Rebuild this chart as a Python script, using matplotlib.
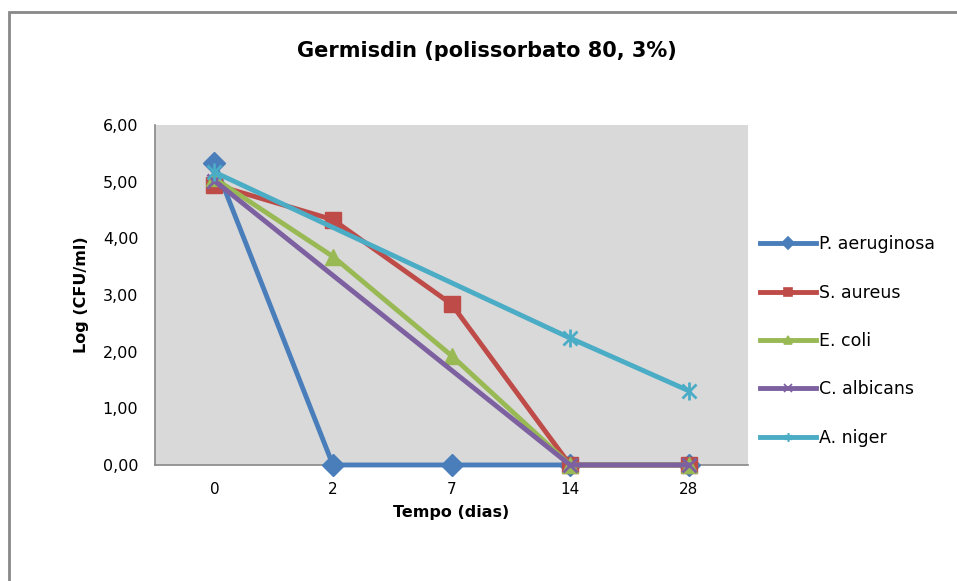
import numpy as np
import matplotlib.pyplot as plt
from matplotlib.lines import Line2D
from matplotlib.patches import Rectangle

# Dados
dias = ['0', '2', '7', '14', '28']
p_aeruginosa = [5.33, 0.0, 0.0, 0.0, 0.0]
s_aureus = [4.95, 4.33, 2.84, 0.0, 0.0]
e_coli = [5.06, 3.68, 1.93, 0.0, 0.0]
c_albicans = [5.02, np.nan, np.nan, 0.0, 0.0]
a_niger = [5.17, np.nan, np.nan, 2.24, 1.31]

series = [
    ('P. aeruginosa', p_aeruginosa, '#4a7ebb', 'D', 11),
    ('S. aureus', s_aureus, '#be4b48', 's', 12),
    ('E. coli', e_coli, '#98b954', '^', 12),
    ('C. albicans', c_albicans, '#7d60a0', 'x', 10),
    ('A. niger', a_niger, '#4bacc6', '*', 12),
]

plt.rcParams['font.family'] = 'DejaVu Sans'

fig = plt.figure(figsize=(9.57, 5.81), dpi=100)
ax = fig.add_axes([0.162, 0.1997, 0.6196, 0.585])
ax.set_facecolor('#d9d9d9')

x = np.arange(len(dias))
for nome, vals, cor, mk, ms in series:
    v = np.array(vals, dtype=float)
    ok = ~np.isnan(v)
    if mk == '*':
        # asterisco estilo Excel
        ax.plot(x[ok], v[ok], color=cor, lw=3.5, zorder=3, clip_on=False)
        ax.plot(x[ok], v[ok], ls='none', marker='x', ms=10, mew=2, color=cor, zorder=4, clip_on=False)
        ax.plot(x[ok], v[ok], ls='none', marker='|', ms=13, mew=2, color=cor, zorder=4, clip_on=False)
    elif mk == 'x':
        ax.plot(x[ok], v[ok], color=cor, lw=3.5, marker='x', ms=ms, mew=2, zorder=3, clip_on=False)
    else:
        ax.plot(x[ok], v[ok], color=cor, lw=3.5, marker=mk, ms=ms, zorder=3, clip_on=False)

ax.set_xlim(-0.5, 4.5)
ax.set_ylim(0, 6)
ax.set_xticks(x)
ax.set_xticklabels(dias, fontsize=11)
ax.set_yticks(np.arange(0, 7, 1))
ax.set_yticklabels([('%.2f' % t).replace('.', ',') for t in range(7)], fontsize=11.5)
ax.tick_params(length=0, pad=12)
for s in ['top', 'right']:
    ax.spines[s].set_visible(False)
for s in ['left', 'bottom']:
    ax.spines[s].set_color('#888888')
    ax.spines[s].set_linewidth(1.2)

ax.set_xlabel('Tempo (dias)', fontsize=11.5, fontweight='bold', labelpad=6)
ax.set_ylabel('Log (CFU/ml)', fontsize=11.5, fontweight='bold', labelpad=10)
fig.text(0.509, 0.912, 'Germisdin (polissorbato 80, 3%)', ha='center', va='center',
         fontsize=15, fontweight='bold')

# legenda
handles = []
for nome, vals, cor, mk, ms in series:
    m = {'D': 'D', 's': 's', '^': '^', 'x': 'x', '*': (6, 2, 0)}[mk]
    handles.append(Line2D([], [], color=cor, lw=3.5, marker=m, ms=6, mew=1.2))
leg = fig.legend(handles, [s[0] for s in series], loc='center left',
                 bbox_to_anchor=(0.778, 0.413), frameon=False, fontsize=12.5,
                 handlelength=3.2, handletextpad=0.2, labelspacing=1.75)

# moldura do gráfico
fig.patches.append(Rectangle((0.009, -0.1), 1.1, 1.08, transform=fig.transFigure,
                             fill=False, edgecolor='#888888', lw=2))

fig.savefig('out.png', dpi=100)
